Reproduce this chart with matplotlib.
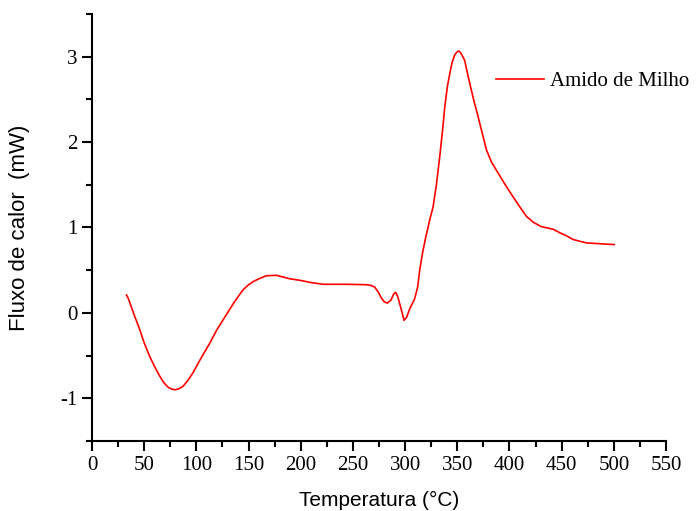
import matplotlib.pyplot as plt
from matplotlib.ticker import MultipleLocator

plt.rcParams['axes.unicode_minus'] = False

# temperature (°C) and heat flow (mW)
temperatura = [33, 34.6, 40, 45.7, 50, 55.3, 60, 64.9, 69, 72.9, 76, 79.2, 83,
               87.2, 92, 96.8, 104, 112.8, 120, 128.8, 136, 144.7, 150, 155,
               160, 167, 176.7, 189.4, 200, 210, 221.4, 231, 245, 263, 268,
               271, 274, 277, 280, 283, 286.5, 289, 291, 293, 295, 297, 299,
               301.5, 304.5, 309, 312, 314, 317, 319.5, 323.6, 326.8, 330,
               333.2, 336, 338, 340.5, 342.8, 345, 347.5, 350, 351.9, 354,
               357, 361.9, 366, 369.9, 374, 377.9, 383, 389, 396, 403.4, 410,
               416.3, 423, 430.6, 436, 441.8, 448, 455, 460.9, 467, 473.7, 480,
               486.5, 493, 500.4]
fluxo = [0.21, 0.175, -0.01, -0.195, -0.35, -0.51, -0.63, -0.74, -0.82, -0.87,
         -0.89, -0.90, -0.89, -0.86, -0.79, -0.70, -0.54, -0.355, -0.19, -0.02,
         0.12, 0.27, 0.33, 0.37, 0.40, 0.435, 0.44, 0.40, 0.38, 0.355, 0.335,
         0.335, 0.335, 0.33, 0.32, 0.30, 0.25, 0.18, 0.13, 0.115, 0.15, 0.22,
         0.24, 0.19, 0.10, 0.01, -0.087, -0.05, 0.05, 0.16, 0.3, 0.5, 0.72,
         0.87, 1.09, 1.24, 1.5, 1.83, 2.15, 2.41, 2.65, 2.80, 2.93, 3.02,
         3.06, 3.065, 3.03, 2.96, 2.69, 2.48, 2.30, 2.10, 1.91, 1.76, 1.64,
         1.50, 1.36, 1.24, 1.13, 1.06, 1.01, 0.995, 0.98, 0.94, 0.90, 0.86,
         0.84, 0.82, 0.815, 0.81, 0.805, 0.80]

fig = plt.figure(figsize=(6.96, 5.11), dpi=100)
ax = fig.add_axes([92 / 696, 70 / 511, 574 / 696, 427 / 511])

ax.plot(temperatura, fluxo, color='#ff0000', linewidth=1.2, label='Amido de Milho')

ax.set_xlim(0, 550)
ax.set_ylim(-1.5, 3.5)
ax.xaxis.set_major_locator(MultipleLocator(50))
ax.xaxis.set_minor_locator(MultipleLocator(25))
ax.yaxis.set_major_locator(MultipleLocator(1))
ax.yaxis.set_minor_locator(MultipleLocator(0.5))

for s in ['top', 'right']:
    ax.spines[s].set_visible(False)
for s in ['left', 'bottom']:
    ax.spines[s].set_linewidth(1.5)

ax.tick_params(which='major', direction='out', length=7, width=1.5)
ax.tick_params(which='minor', direction='out', length=4, width=1.5)
for lab in ax.get_xticklabels() + ax.get_yticklabels():
    lab.set_fontfamily('Liberation Serif')
    lab.set_fontsize(15)

ax.set_xlabel('Temperatura (°C)', fontsize=15, fontfamily='Liberation Sans',
              labelpad=12)
ax.set_ylabel('Fluxo de calor  (mW)', fontsize=16, fontfamily='Liberation Sans',
              labelpad=22)

ax.legend(loc='center left', bbox_to_anchor=(0.704, 0.843), frameon=False,
          prop={'family': 'Liberation Serif', 'size': 15},
          handlelength=2.3, handletextpad=0.3, borderaxespad=0, borderpad=0)

fig.savefig('out.png', dpi=100)
